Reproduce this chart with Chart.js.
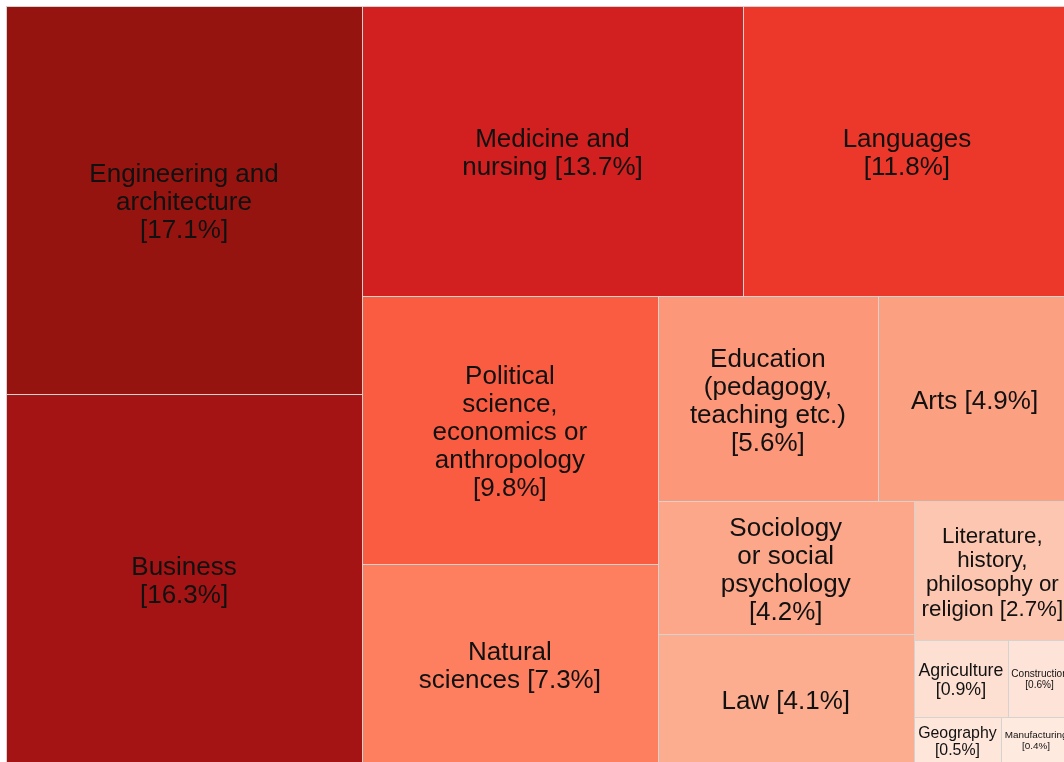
<!DOCTYPE html>
<html>
<head>
<meta charset="utf-8">
<title>Field of study treemap</title>
<script src="https://cdn.jsdelivr.net/npm/chart.js@4.4.1/dist/chart.umd.min.js"></script>
<style>
  html, body { margin: 0; padding: 0; background: #fff; overflow: hidden; }
  #wrap { position: absolute; left: 0; top: 0; width: 1080px; height: 770px; }
</style>
</head>
<body>
<div id="wrap"><canvas id="tree"></canvas></div>
<script>
// Share of students by field of study (%), sorted largest first
const categories = [
  'Engineering and architecture',
  'Business',
  'Medicine and nursing',
  'Languages',
  'Political science, economics or anthropology',
  'Natural sciences',
  'Education (pedagogy, teaching etc.)',
  'Arts',
  'Sociology\nor social psychology',
  'Law',
  'Literature, history, philosophy or religion',
  'Agriculture',
  'Construction',
  'Geography',
  'Manufacturing',
];
const shares = [17.1, 16.3, 13.7, 11.8, 9.8, 7.3, 5.6, 4.9, 4.2, 4.1, 2.7, 0.9, 0.6, 0.5, 0.4];

// fill colours (Reds ramp, darkest for the biggest share)
const cellColors = [
  '#961410', '#a51414', '#d21f1f', '#ec382b', '#fa5c42', '#fd7f5f', '#fc977a', '#fca082',
  '#fca78a', '#fcad90', '#fdc6b0', '#fee0d2', '#fee4d8', '#fee6db', '#ffeae0',
];

/**
 * Squarified layout in data units (unit square), values in order
 */
function squarify(values, x, y, w, h) {
  const rects = [];
  let remaining = values.reduce((a, b) => a + b, 0);
  let i = 0;

  const worst = (row, side, scale) => {
    const s = row.reduce((a, b) => a + b, 0) * scale;
    const rmax = Math.max(...row) * scale;
    const rmin = Math.min(...row) * scale;
    return Math.max((side * side * rmax) / (s * s), (s * s) / (side * side * rmin));
  };

  while (i < values.length) {
    const side = Math.min(w, h);
    const scale = (w * h) / remaining;
    const row = [values[i]];
    let j = i + 1;
    let best = worst(row, side, scale);
    while (j < values.length) {
      const next = worst(row.concat(values[j]), side, scale);
      if (next > best) break;
      row.push(values[j]);
      best = next;
      j++;
    }
    const sum = row.reduce((a, b) => a + b, 0);
    const thick = (sum * scale) / side;
    if (w < h) {
      let cx = x;
      row.forEach(v => {
        const rw = (v * scale) / thick;
        rects.push({ x0: cx, y0: y, x1: cx + rw, y1: y + thick });
        cx += rw;
      });
      y += thick;
      h -= thick;
    } else {
      let cy = y;
      row.forEach(v => {
        const rh = (v * scale) / thick;
        rects.push({ x0: x, y0: cy, x1: x + thick, y1: cy + rh });
        cy += rh;
      });
      x += thick;
      w -= thick;
    }
    remaining -= sum;
    i = j;
  }
  return rects;
}

// greedy wrap at 15 characters, explicit \n kept
function wrapLabel(text, width = 15) {
  const lines = [];
  text.split('\n').forEach(part => {
    let line = '';
    part.split(' ').forEach(word => {
      if (!line) line = word;
      else if ((line + ' ' + word).length <= width) line += ' ' + word;
      else { lines.push(line); line = word; }
    });
    if (line) lines.push(line);
  });
  return lines;
}

const cells = squarify(shares, 0, 0, 1, 1);

const treemapPlugin = {
  id: 'treemapCells',
  beforeDatasetsDraw(chart) {
    const { ctx, scales } = chart;
    const xs = scales.x;
    const ys = scales.y;
    const family = '"Liberation Sans", Arial, Helvetica, sans-serif';
    const maxSize = 26;

    ctx.save();
    cells.forEach((c, i) => {
      const left = Math.round(xs.getPixelForValue(c.x0));
      const right = Math.round(xs.getPixelForValue(c.x1));
      const top = Math.round(ys.getPixelForValue(c.y0));
      const bottom = Math.round(ys.getPixelForValue(c.y1));
      ctx.fillStyle = cellColors[i];
      ctx.fillRect(left, top, right - left, bottom - top);
      ctx.strokeStyle = '#d6d2d0';
      ctx.lineWidth = 1;
      ctx.strokeRect(left + 0.5, top + 0.5, right - left, bottom - top);
    });

    cells.forEach((c, i) => {
      const left = xs.getPixelForValue(c.x0);
      const right = xs.getPixelForValue(c.x1);
      const top = ys.getPixelForValue(c.y0);
      const bottom = ys.getPixelForValue(c.y1);
      const bw = right - left;
      const bh = bottom - top;
      const lines = wrapLabel(categories[i] + ' [' + shares[i].toFixed(1) + '%]');

      ctx.font = maxSize + 'px ' + family;
      const tw = Math.max(...lines.map(l => ctx.measureText(l).width));
      let size = Math.min(maxSize, (maxSize * 0.9 * bw) / tw);
      size = Math.min(size, (0.9 * bh) / (lines.length * 1.1));
      const lh = size * 1.08;

      ctx.font = size + 'px ' + family;
      ctx.fillStyle = '#111';
      ctx.textAlign = 'center';
      ctx.textBaseline = 'middle';
      const cx = (left + right) / 2;
      const cy = (top + bottom) / 2 + size * 0.12;
      lines.forEach((l, k) => {
        ctx.fillText(l, cx, cy + (k - (lines.length - 1) / 2) * lh);
      });
    });
    ctx.restore();
  },
};

new Chart(document.getElementById('tree'), {
  type: 'scatter',
  data: { datasets: [{ data: [] }] },
  options: {
    responsive: true,
    maintainAspectRatio: false,
    animation: false,
    layout: { padding: { left: 6, top: 6, right: 9, bottom: 7 } },
    plugins: { legend: { display: false }, tooltip: { enabled: false } },
    scales: {
      x: { type: 'linear', min: 0, max: 1, display: false },
      y: { type: 'linear', min: 0, max: 1, reverse: true, display: false },
    },
  },
  plugins: [treemapPlugin],
});
</script>
</body>
</html>
